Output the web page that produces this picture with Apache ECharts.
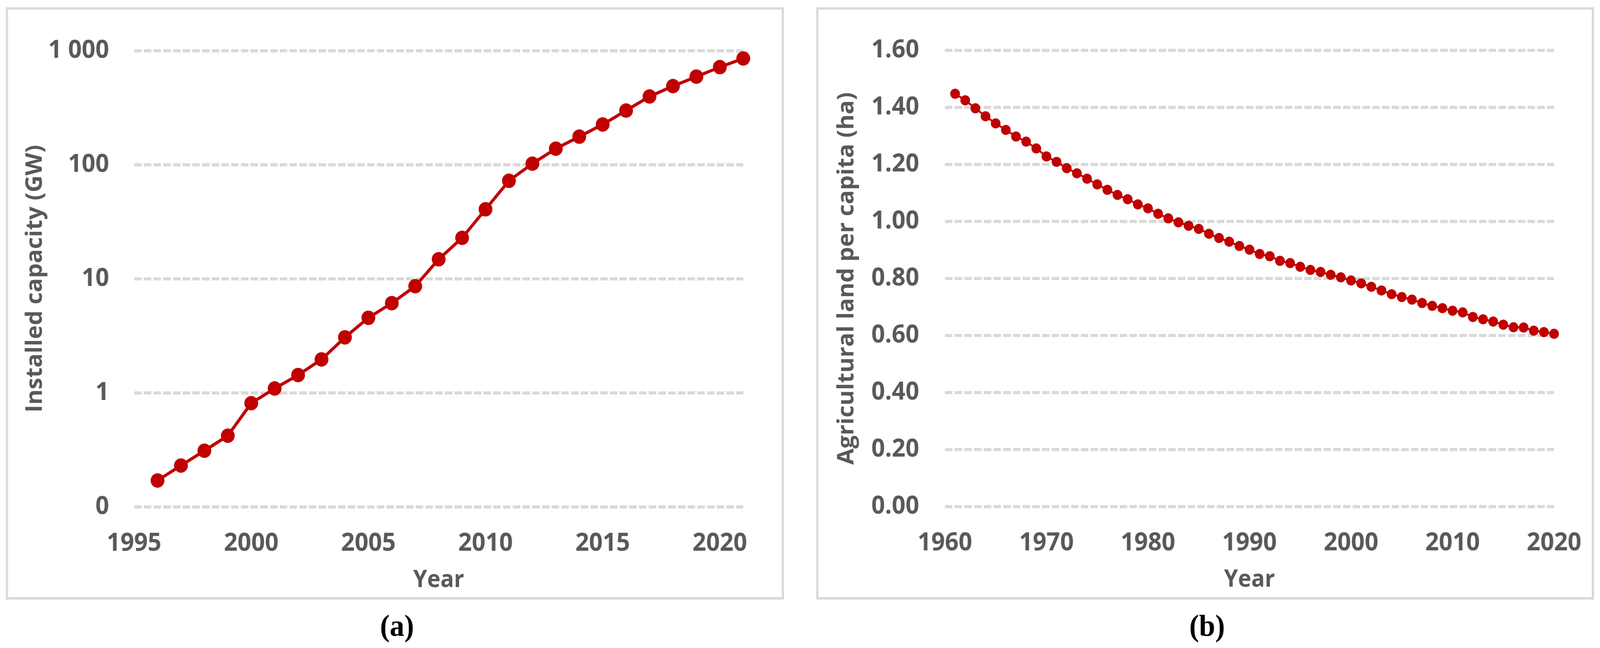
<!DOCTYPE html>
<html>
<head>
<meta charset="utf-8">
<script src="https://cdn.jsdelivr.net/npm/echarts@6/dist/echarts.min.js"></script>
<style>
html,body{margin:0;padding:0;background:#fff;overflow:hidden;}
#chart{width:4284px;height:1659px;transform-origin:0 0;}
</style>
</head>
<body>
<div id="chart"></div>
<script>
// ---- Panel (a): installed PV capacity (GW), log scale ----
var yearsA = [1996,1997,1998,1999,2000,2001,2002,2003,2004,2005,2006,2007,2008,2009,2010,2011,2012,2013,2014,2015,2016,2017,2018,2019,2020,2021];
var capacityA = [0.17,0.23,0.31,0.42,0.81,1.09,1.43,1.96,3.06,4.54,6.1,8.6,14.8,22.8,40.6,72.2,102,138,176,225,298,396,488,591,716,853];
var yTickValuesA = [0.1,1,10,100,1000];
var yTickLabelsA = ['0','1','10','100','1 000'];

// ---- Panel (b): agricultural land per capita (ha) ----
var yearsB = [1961,1962,1963,1964,1965,1966,1967,1968,1969,1970,1971,1972,1973,1974,1975,1976,1977,1978,1979,1980,
              1981,1982,1983,1984,1985,1986,1987,1988,1989,1990,1991,1992,1993,1994,1995,1996,1997,1998,1999,2000,
              2001,2002,2003,2004,2005,2006,2007,2008,2009,2010,2011,2012,2013,2014,2015,2016,2017,2018,2019,2020];
var landB = [1.448,1.425,1.397,1.369,1.344,1.321,1.298,1.280,1.256,1.228,1.209,1.187,1.169,1.150,1.130,1.111,1.093,1.078,1.060,1.046,
             1.027,1.011,0.997,0.985,0.974,0.957,0.942,0.929,0.914,0.901,0.886,0.878,0.862,0.854,0.841,0.830,0.823,0.813,0.804,0.793,
             0.783,0.771,0.758,0.745,0.735,0.726,0.714,0.704,0.696,0.687,0.681,0.665,0.657,0.649,0.638,0.629,0.628,0.617,0.612,0.606];

var titleA = 'Installed capacity (GW)';
var titleB = 'Agricultural land per capita (ha)';
var xTitle = 'Year';

var RED = '#C00000';
var GREY = '#595959';
var GRID = '#D9D9D9';
var FONT = '"Open Sans", sans-serif';

function pairs(xs, ys){ return xs.map(function(x,i){ return [x, ys[i]]; }); }

// The design is laid out on a 4284x1659 canvas; fit it to the actual viewport.
var el = document.getElementById('chart');
var sx = (window.innerWidth || 4284) / 4284;
var sy = (window.innerHeight || 1659) / 1659;
el.style.transform = 'scale(' + sx + ',' + sy + ')';

var chart = echarts.init(el, null, {renderer:'canvas', width:4284, height:1659});

var axisLabelStyle = {color: GREY, fontFamily: FONT, fontWeight: 'bold', fontSize: 64};
var nameStyle = {color: GREY, fontFamily: FONT, fontWeight: 'bold', fontSize: 60};
var splitDashed = {show:true, lineStyle:{color: GRID, width:8, type:[20,6]}};
var capRich = {
  p:{fontFamily:'"Liberation Serif", serif', fontSize:78, color:'#000'},
  b:{fontFamily:'"Liberation Serif", serif', fontSize:78, fontWeight:'bold', color:'#000'}
};

var option = {
  backgroundColor: '#ffffff',
  animation: false,
  graphic: [
    {type:'rect', shape:{x:18.5, y:21.5, width:2077.5, height:1510.5}, style:{fill:'none', stroke:GRID, lineWidth:6}, silent:true},
    {type:'rect', shape:{x:2188.5, y:21.5, width:2076.5, height:1510.5}, style:{fill:'none', stroke:GRID, lineWidth:6}, silent:true}
  ],
  title: [
    {text:'{p|(}{b|a}{p|)}', left:1058, top:1603, textAlign:'center', textVerticalAlign:'middle', textStyle:{rich:capRich}},
    {text:'{p|(}{b|b}{p|)}', left:3227, top:1603, textAlign:'center', textVerticalAlign:'middle', textStyle:{rich:capRich}}
  ],
  grid: [
    {left:359, top:129.5, width:1631, height:1168},
    {left:2530, top:129, width:1631, height:1168}
  ],
  xAxis: [
    {type:'value', gridIndex:0, min:1995, max:2021, interval:5,
     name:xTitle, nameLocation:'middle', nameGap:158, nameTextStyle:nameStyle,
     axisLine:{show:false}, axisTick:{show:false}, splitLine:{show:false},
     axisLabel:Object.assign({margin:62, formatter:function(v){ return (v % 5 === 0) ? String(v) : ''; }}, axisLabelStyle)},
    {type:'value', gridIndex:1, min:1960, max:2020, interval:10,
     name:xTitle, nameLocation:'middle', nameGap:158, nameTextStyle:nameStyle,
     axisLine:{show:false}, axisTick:{show:false}, splitLine:{show:false},
     axisLabel:Object.assign({margin:62, formatter:function(v){ return String(v); }}, axisLabelStyle)}
  ],
  yAxis: [
    {type:'log', gridIndex:0, logBase:10, min:0.1, max:1000, interval:1,
     name:titleA, nameLocation:'middle', nameGap:232, nameTextStyle:nameStyle,
     axisLine:{show:false}, axisTick:{show:false}, splitLine:splitDashed,
     axisLabel:Object.assign({margin:67, formatter:function(v){
        var k = Math.round(Math.log10(v));
        var idx = yTickValuesA.findIndex(function(t){ return Math.round(Math.log10(t)) === k; });
        return idx >= 0 ? yTickLabelsA[idx] : '';
     }}, axisLabelStyle)},
    {type:'value', gridIndex:1, min:0, max:1.6, interval:0.2,
     name:titleB, nameLocation:'middle', nameGap:232, nameTextStyle:nameStyle,
     axisLine:{show:false}, axisTick:{show:false}, splitLine:splitDashed,
     axisLabel:Object.assign({margin:69, formatter:function(v){ return v.toFixed(2); }}, axisLabelStyle)}
  ],
  series: [
    {type:'line', xAxisIndex:0, yAxisIndex:0, data:pairs(yearsA, capacityA),
     symbol:'circle', symbolSize:37, showAllSymbol:true,
     lineStyle:{color:RED, width:8}, itemStyle:{color:RED}},
    {type:'line', xAxisIndex:1, yAxisIndex:1, data:pairs(yearsB, landB),
     symbol:'circle', symbolSize:26, showAllSymbol:true,
     lineStyle:{color:RED, width:5}, itemStyle:{color:RED}}
  ]
};
chart.setOption(option);
</script>
</body>
</html>
